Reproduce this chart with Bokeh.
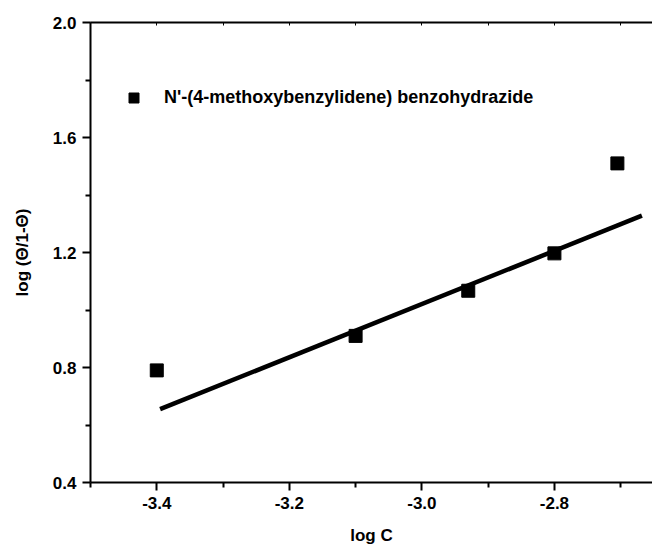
from bokeh.plotting import figure
from bokeh.models import (Range1d, FixedTicker, PrintfTickFormatter, LinearAxis,
                          Legend, LegendItem, CustomJSTickFormatter)
from bokeh.embed import file_html
from bokeh.resources import INLINE

# data
log_c = [-3.40, -3.10, -2.93, -2.80, -2.705]
log_theta = [0.79, 0.91, 1.067, 1.197, 1.51]
fit_x = [-3.395, -2.668]
fit_y = [0.655, 1.328]
series_name = "N'-(4-methoxybenzylidene) benzohydrazide"

x_major = [-3.4, -3.2, -3.0, -2.8]
x_minor = [-3.5, -3.3, -3.1, -2.9, -2.7]
y_major = [0.4, 0.8, 1.2, 1.6, 2.0]
y_minor = [0.6, 1.0, 1.4, 1.8]

FONT = "Liberation Sans"

p = figure(width=652, height=547, output_backend="svg", toolbar_location=None,
           x_range=Range1d(-3.5, -2.652), y_range=Range1d(0.4, 2.0),
           min_border_left=90, min_border_right=0, min_border_top=22,
           min_border_bottom=65,
           x_axis_label="log C", y_axis_label="log (Θ/1-Θ)")
p.outline_line_color = None
p.grid.visible = False
p.background_fill_color = "white"
p.border_fill_color = "white"

p.xaxis.ticker = FixedTicker(ticks=x_major, minor_ticks=x_minor)
p.yaxis.ticker = FixedTicker(ticks=y_major, minor_ticks=y_minor)
p.xaxis.formatter = PrintfTickFormatter(format="%.1f")
p.yaxis.formatter = PrintfTickFormatter(format="%.1f")

for ax in (p.xaxis[0], p.yaxis[0]):
    ax.axis_line_width = 2
    ax.axis_line_color = "black"
    ax.major_tick_line_width = 2
    ax.minor_tick_line_width = 2
    ax.major_tick_out = 8
    ax.major_tick_in = 0
    ax.minor_tick_out = 5
    ax.minor_tick_in = 0
    ax.major_label_text_font = FONT
    ax.major_label_text_font_style = "bold"
    ax.major_label_text_font_size = "17px"
    ax.major_label_text_color = "black"
    ax.axis_label_text_font = FONT
    ax.axis_label_text_font_style = "bold"
    ax.axis_label_text_font_size = "17px"
    ax.axis_label_text_color = "black"
    ax.major_label_standoff = 6

p.xaxis.axis_label_standoff = 14
p.yaxis.axis_label_standoff = 18

top = LinearAxis(ticker=FixedTicker(ticks=x_major, minor_ticks=x_minor),
                 formatter=CustomJSTickFormatter(code="return ''"),
                 axis_line_width=2, major_tick_in=3, major_tick_out=0,
                 minor_tick_in=3, minor_tick_out=0,
                 major_tick_line_width=1, minor_tick_line_width=1,
                 major_label_text_font_size="1px")
p.add_layout(top, "above")

p.line(fit_x, fit_y, line_width=4.5, line_color="black")
r = p.scatter(log_c, log_theta, marker="square", size=13,
              fill_color="black", line_color="black")

legend = Legend(items=[LegendItem(label=series_name, renderers=[r])],
                location=(31, 372), padding=0, margin=0, spacing=0,
                glyph_width=25, glyph_height=25, label_standoff=18,
                border_line_alpha=0, background_fill_alpha=0,
                label_text_font=FONT, label_text_font_style="bold",
                label_text_font_size="18px", label_text_color="black")
p.add_layout(legend, "center")

open("out.html", "w").write(file_html(p, INLINE))
